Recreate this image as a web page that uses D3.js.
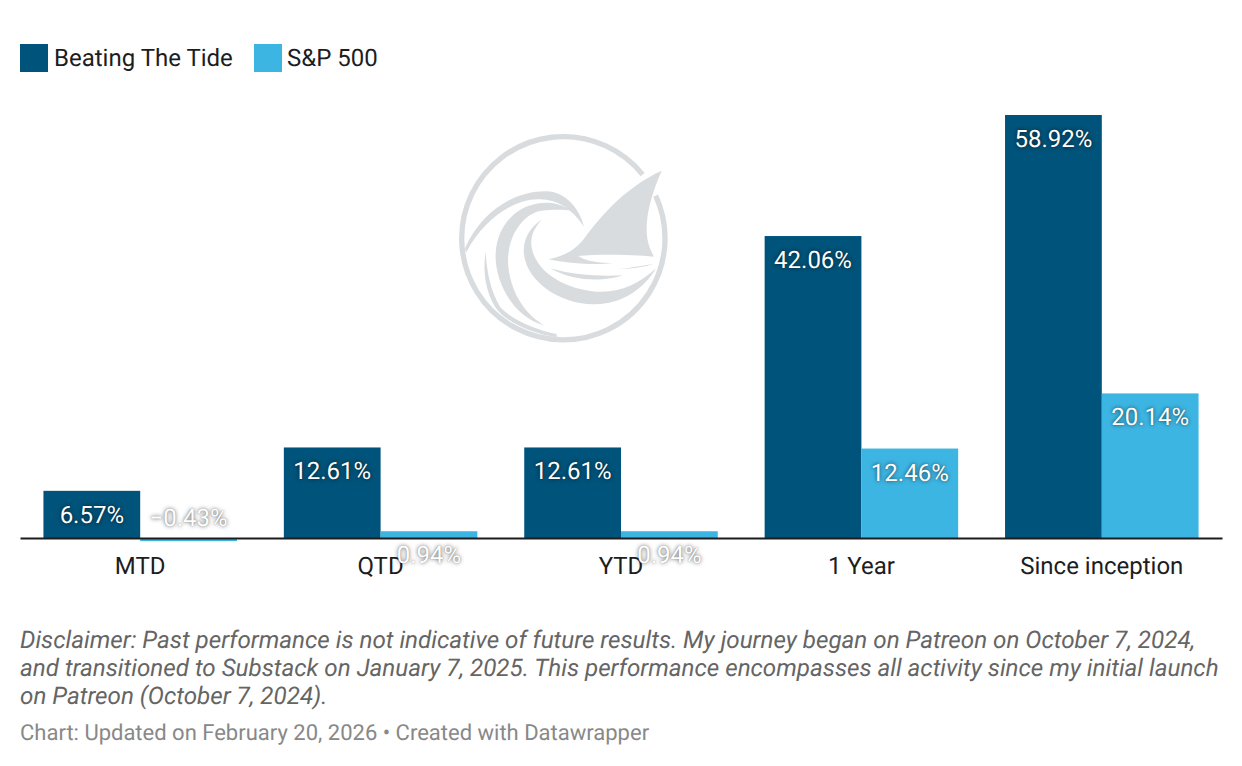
<!DOCTYPE html>
<html>
<head>
<meta charset="utf-8">
<script src="https://cdn.jsdelivr.net/npm/d3@7"></script>
<style>
  html, body { margin: 0; padding: 0; background: #fff; }
  svg { display: block; }
  text { font-family: Roboto, sans-serif; text-rendering: geometricPrecision; }
  .val { fill: #fff; font-size: 24px; text-anchor: middle; dominant-baseline: central; text-shadow: 0 0 4px rgba(0,0,0,.6), 0 0 1px rgba(0,0,0,.35); }
</style>
</head>
<body>
<div id="chart"></div>
<script>
var categories = ["MTD", "QTD", "YTD", "1 Year", "Since inception"];
var seriesNames = ["Beating The Tide", "S&P 500"];
var tideValues = [6.57, 12.61, 12.61, 42.06, 58.92];
var spValues = [-0.43, 0.94, 0.94, 12.46, 20.14];
var colors = ["#00537a", "#3db5e3"];
var noteLines = [
  "Disclaimer: Past performance is not indicative of future results. My journey began on Patreon on October 7, 2024,",
  "and transitioned to Substack on January 7, 2025. This performance encompasses all activity since my initial launch",
  "on Patreon (October 7, 2024)."
];
var footer = "Chart: Updated on February 20, 2026 \u2022 Created with Datawrapper";

var svgWidth = 1242;
var svgHeight = 766;

var svg = d3.select("#chart")
  .append("svg")
  .attr("width", svgWidth)
  .attr("height", svgHeight);

// watermark logo, traced by hand in its own 250x240 box x3
var logo = svg.append("g")
  .attr("transform", "translate(440,120) scale(0.3333)");

logo.append("path")
  .attr("d", "M608,164 A305,305 0 1 0 647,227")
  .attr("fill", "none")
  .attr("stroke", "#d9dcdf")
  .attr("stroke-width", 16);

var logoShapes = [
  "M665,152 C560,200 490,280 440,345 C420,375 390,405 325,418 C380,430 460,436 520,430 C480,428 440,425 415,408 C470,403 560,403 642,410 C632,392 625,375 622,355 C612,290 640,210 665,152 Z",
  "M640,432 C600,437 570,445 535,447 C570,447 610,442 640,432 Z",
  "M330,445 C400,465 480,470 550,466 C500,482 410,490 330,445 Z",
  "M307,298 C265,325 245,365 253,410 C265,480 350,550 460,553 C540,555 610,510 648,445 C600,490 540,520 470,515 C400,510 330,480 295,430 C265,385 265,340 307,298 Z",
  "M432,320 C420,270 385,225 335,215 C245,205 130,260 75,385 L78,398 C130,300 220,235 300,238 C350,238 395,265 432,320 Z",
  "M395,272 C355,245 315,243 275,255 C215,270 170,330 167,400 C163,480 215,590 315,617 C265,590 215,530 205,440 C197,350 250,280 305,272 C340,268 370,268 395,272 Z",
  "M137,395 C128,450 135,510 165,560 C195,605 270,640 350,652 L350,642 C290,630 215,600 180,560 C150,510 140,450 137,395 Z"
];

logo.selectAll(".logo-shape")
  .data(logoShapes)
  .enter()
  .append("path")
  .attr("class", "logo-shape")
  .attr("d", d => d)
  .attr("fill", "#d9dcdf");

// legend
var legendX = [20, 254];
var legend = svg.selectAll(".legend")
  .data(seriesNames)
  .enter()
  .append("g")
  .attr("class", "legend")
  .attr("transform", (d, i) => `translate(${legendX[i]}, 44)`);

legend.append("rect")
  .attr("width", 28)
  .attr("height", 28)
  .attr("fill", (d, i) => colors[i]);

legend.append("text")
  .attr("x", (d, i) => i == 0 ? 34 : 33)
  .attr("y", 14)
  .attr("dominant-baseline", "central")
  .attr("font-size", 24)
  .attr("fill", "#1d1d1d")
  .text(d => d);

// scales
var xScale = d3.scaleBand()
  .domain(categories)
  .range([20, 1222])
  .paddingInner(0.195)
  .paddingOuter(0.0975);

var seriesScale = d3.scaleBand()
  .domain([0, 1])
  .range([0, xScale.bandwidth()]);

var yScale = d3.scaleLinear()
  .domain([0, 58.92])
  .range([538, 115]);

var rows = categories.map((c, i) => [
  { cat: c, s: 0, v: tideValues[i] },
  { cat: c, s: 1, v: spValues[i] }
]);
var flat = d3.merge(rows);

// bars
svg.selectAll(".bar")
  .data(flat)
  .enter()
  .append("rect")
  .attr("class", "bar")
  .attr("x", d => xScale(d.cat) + seriesScale(d.s))
  .attr("y", d => Math.min(yScale(d.v), yScale(0)))
  .attr("width", seriesScale.bandwidth())
  .attr("height", d => Math.abs(yScale(d.v) - yScale(0)))
  .attr("fill", d => colors[d.s]);

// axis
var xAxis = svg.append("g")
  .attr("transform", `translate(0, ${yScale(0)})`)
  .call(d3.axisBottom(xScale).tickSize(0).tickSizeOuter(0));

xAxis.select(".domain")
  .attr("stroke", "#1d1d1d")
  .attr("stroke-width", 2);

xAxis.selectAll("text")
  .attr("y", 28)
  .attr("dy", 0)
  .attr("dominant-baseline", "central")
  .attr("font-family", "Roboto, sans-serif")
  .attr("font-size", 24)
  .attr("fill", "#1d1d1d");

// value labels sit inside the end of each bar, even when the bar is too short
svg.selectAll(".val")
  .data(flat)
  .enter()
  .append("text")
  .attr("class", "val")
  .attr("x", d => xScale(d.cat) + seriesScale(d.s) + seriesScale.bandwidth() / 2)
  .attr("y", d => d.v < 0 ? yScale(d.v) - 23 : yScale(d.v) + 24)
  .text(d => (d.v < 0 ? "\u2212" : "") + Math.abs(d.v).toFixed(2) + "%");

// notes
svg.selectAll(".note")
  .data(noteLines)
  .enter()
  .append("text")
  .attr("class", "note")
  .attr("x", 20)
  .attr("y", (d, i) => 648 + i * 28)
  .attr("font-size", 24.2)
  .attr("font-style", "italic")
  .attr("fill", "#656565")
  .text(d => d);

svg.append("text")
  .attr("x", 20)
  .attr("y", 740)
  .attr("font-size", 22)
  .attr("fill", "#888888")
  .text(footer);
</script>
</body>
</html>
